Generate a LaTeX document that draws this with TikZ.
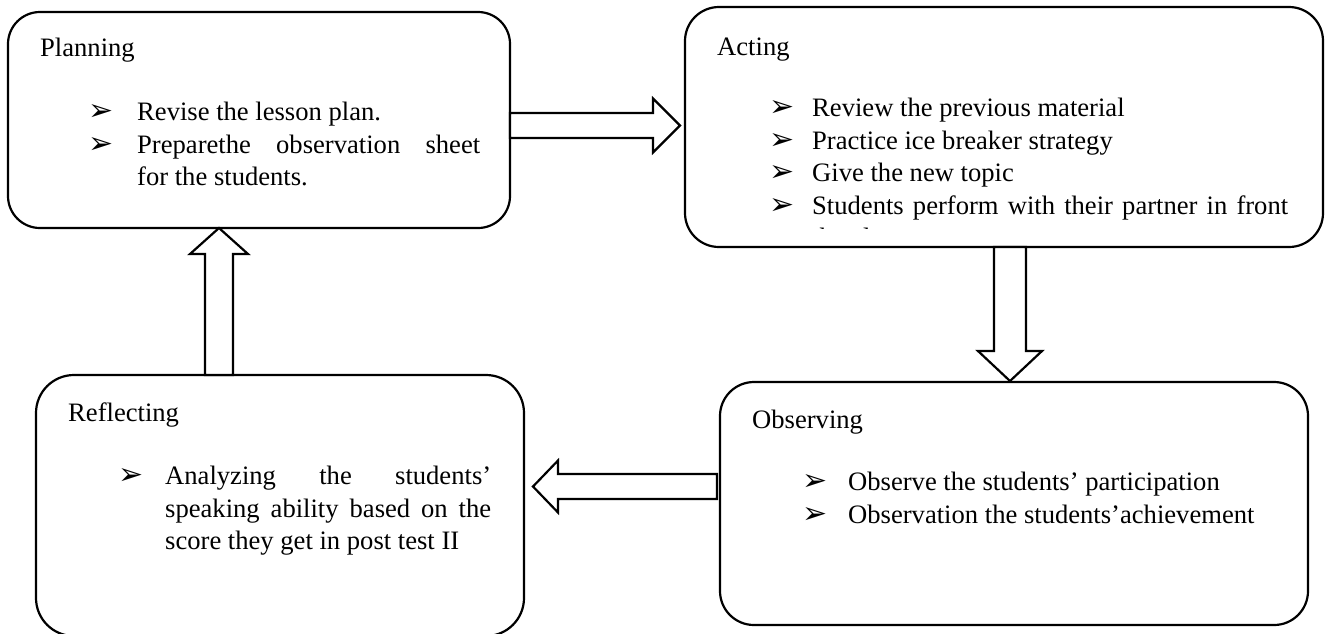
\documentclass[tikz,border=0pt]{standalone}
\usepackage{fontspec}
\setmainfont{Liberation Serif}
\newfontfamily\symfont{DejaVu Sans}
\usetikzlibrary{calc}

\newlength\hangw
\newcommand{\bul}{{\symfont\fontsize{30}{30}\selectfont ➢}}
\newcommand{\itm}[1]{\par\noindent\hangindent=\hangw\hangafter=1\makebox[\hangw][l]{\bul}\strut#1\par}

\tikzset{
    box/.style={draw, line width=2.2pt, inner sep=0pt, outer sep=0pt, anchor=north west},
    title/.style={anchor=base west, inner sep=0pt, font=\fontsize{26.6}{32.5}\selectfont},
    list/.style={anchor=north west, inner sep=0pt, align=justify, font=\fontsize{26.6}{32.5}\selectfont, execute at begin node={\setlength\hangw{#1}}},
    blockarrow/.style={draw, line width=2.2pt, fill=white, line join=miter},
}

\begin{document}
\begin{tikzpicture}[x=1pt, y=-1pt]
    \clip (0,0) rectangle (1328,633);
    \node (planning) [box, minimum width=502, minimum height=216, rounded corners=32] at (8,12) {};
    \node (acting) [box, minimum width=638, minimum height=240, rounded corners=34] at (685,7) {};
    \node (observing) [box, minimum width=588, minimum height=243, rounded corners=34] at (720,382) {};
    \node (reflecting) [box, minimum width=488, minimum height=261, rounded corners=38] at (36,375) {};
    \node (planning_title) [title] at (40,56) {Planning};
    \node (acting_title) [title] at (717,55) {Acting};
    \node (observing_title) [title] at (752,428) {Observing};
    \node (reflecting_title) [title] at (68,421) {Reflecting};
    \node (planning_list) [list=49pt, text width=392] at (88,88.25) {\itm{Revise the lesson plan.}\itm{Preparethe observation sheet\linebreak for the students.}};
    \begin{scope}
        \clip (685,7) rectangle (1323,228);
        \node (acting_list) [list=43pt, text width=519] at (769,84.25) {\itm{Review the previous material}\itm{Practice ice breaker strategy}\itm{Give the new topic}\itm{Students perform with their partner in front\linebreak the class}};
    \end{scope}
    \node (observing_list) [list=46pt, text width=480] at (802,458.25) {\itm{Observe the students’ participation}\itm{Observation the students’achievement}};
    \node (reflecting_list) [list=47pt, text width=373] at (118,452.25) {\itm{Analyzing the students’\linebreak speaking ability based on the\linebreak score they get in post test II}};
    \coordinate (planning_out) at (planning.east |- 0,125.5);
    \coordinate (acting_out) at (acting.south -| 1010,0);
    \coordinate (observing_out) at ($(observing.west |- 0,486.5)+(-3,0)$);
    \coordinate (reflecting_out) at (reflecting.north -| 219,0);
    \draw [blockarrow] (planning_out) ++(0,-12.5) -- ++(143,0) -- ++(0,-14.5) -- ++(27,27) -- ++(-27,27) -- ++(0,-14.5) -- ++(-143,0) -- cycle;
    \draw [blockarrow] (acting_out) ++(-16,0) -- ++(0,104) -- ++(-16,0) -- ++(32,30) -- ++(32,-30) -- ++(-16,0) -- ++(0,-104) -- cycle;
    \draw [blockarrow] (observing_out) ++(0,-12.5) -- ++(-159,0) -- ++(0,-13.5) -- ++(-25,26) -- ++(25,26) -- ++(0,-13.5) -- ++(159,0) -- cycle;
    \draw [blockarrow] (reflecting_out) ++(-14,0) -- ++(0,-121) -- ++(-15,0) -- ++(29,-26) -- ++(29,26) -- ++(-15,0) -- ++(0,121) -- cycle;
\end{tikzpicture}
\end{document}
